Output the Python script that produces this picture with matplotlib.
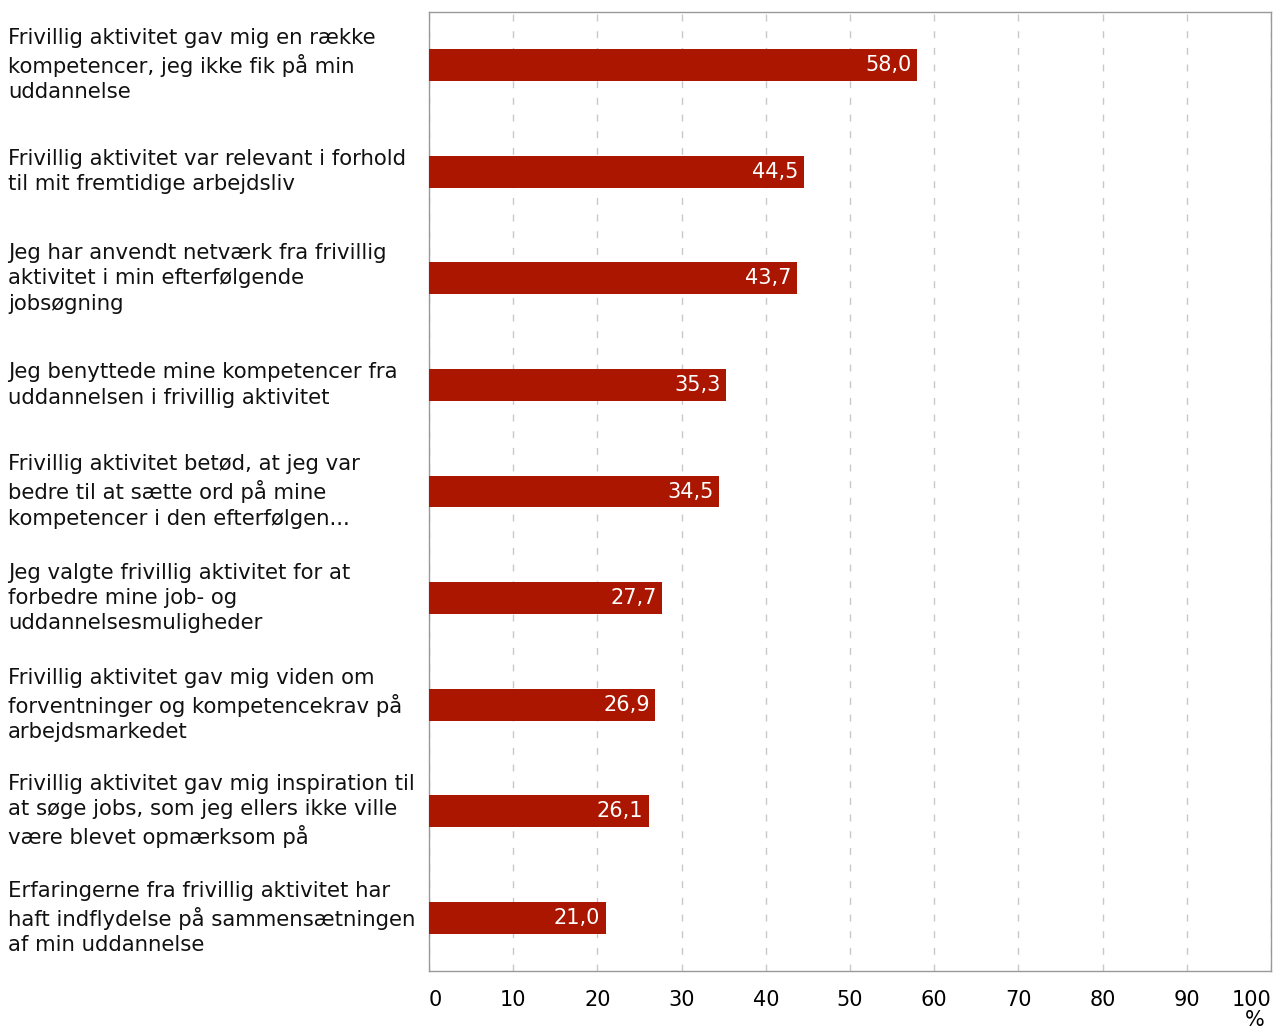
import numpy as np
import matplotlib.pyplot as plt
from matplotlib.transforms import blended_transform_factory

# data, top to bottom
categories = [
    "Frivillig aktivitet gav mig en række\nkompetencer, jeg ikke fik på min\nuddannelse",
    "Frivillig aktivitet var relevant i forhold\ntil mit fremtidige arbejdsliv",
    "Jeg har anvendt netværk fra frivillig\naktivitet i min efterfølgende\njobsøgning",
    "Jeg benyttede mine kompetencer fra\nuddannelsen i frivillig aktivitet",
    "Frivillig aktivitet betød, at jeg var\nbedre til at sætte ord på mine\nkompetencer i den efterfølgen...",
    "Jeg valgte frivillig aktivitet for at\nforbedre mine job- og\nuddannelsesmuligheder",
    "Frivillig aktivitet gav mig viden om\nforventninger og kompetencekrav på\narbejdsmarkedet",
    "Frivillig aktivitet gav mig inspiration til\nat søge jobs, som jeg ellers ikke ville\nvære blevet opmærksom på",
    "Erfaringerne fra frivillig aktivitet har\nhaft indflydelse på sammensætningen\naf min uddannelse",
]
values = [58.0, 44.5, 43.7, 35.3, 34.5, 27.7, 26.9, 26.1, 21.0]
xticks = [0, 10, 20, 30, 40, 50, 60, 70, 80, 90, 100]

bar_color = "#aa1600"

fig = plt.figure(figsize=(12.73, 10.29), dpi=100)
ax = fig.add_axes([429 / 1273, 1 - 971 / 1029, 842 / 1273, 959 / 1029])

y = np.arange(len(values))
ax.barh(y, values, height=0.3, color=bar_color, zorder=3)
ax.set_ylim(len(values) - 0.5, -0.5)
ax.set_xlim(0, 100)

# value labels inside the bars
for yi, v in zip(y, values):
    ax.annotate(f"{v:.1f}".replace(".", ","), xy=(v, yi), xytext=(-4, 0),
                textcoords="offset points", ha="right", va="center",
                color="white", fontsize=15, zorder=4)

# category labels, left aligned at the figure edge
trans = blended_transform_factory(fig.transFigure, ax.transData)
for yi, lab in zip(y, categories):
    ax.text(8 / 1273, yi, lab, transform=trans, ha="left", va="center",
            fontsize=15.3, color="#111111", linespacing=1.32)
ax.set_yticks([])

# x axis
ax.set_xticks(xticks)
ax.set_xticklabels([str(t) for t in xticks], fontsize=15)
ax.tick_params(axis="x", length=0, pad=14)
labels = ax.get_xticklabels()
labels[0].set_ha("left")
labels[-1].set_ha("right")
ax.text(0.993, -0.041, "%", transform=ax.transAxes, ha="right", va="top",
        fontsize=15)

ax.grid(axis="x", color="#c8c8c8", linestyle=(0, (5, 7)), linewidth=1, zorder=0)
for s in ax.spines.values():
    s.set_color("#999999")
    s.set_linewidth(1)

fig.savefig("out.png", dpi=100)
